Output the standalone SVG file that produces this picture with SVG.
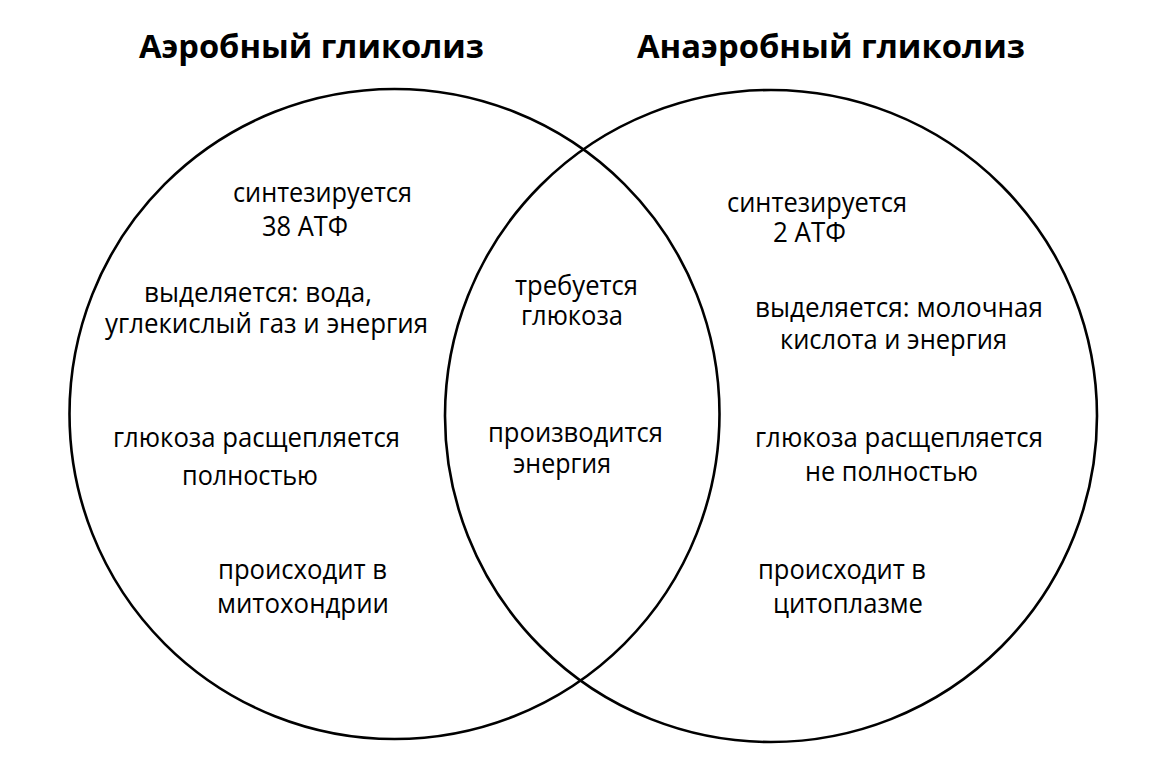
<svg xmlns="http://www.w3.org/2000/svg" width="1174" height="758" viewBox="0 0 1174 758">
<style>
.c{fill:none;stroke:#000;stroke-width:2.6}
.t{font-family:"Open Sans","Liberation Sans",sans-serif;font-size:27px;fill:#000}
.h{font-family:"Open Sans","Liberation Sans",sans-serif;font-size:33px;font-weight:bold;fill:#000}
</style>
<rect width="1174" height="758" fill="#fff"/>
<g id="aerobic">
<circle class="c" cx="394.5" cy="414" r="325"/>
<text class="h" x="139" y="58" textLength="345" lengthAdjust="spacingAndGlyphs">Аэробный гликолиз</text>
<text class="t" x="233" y="202" textLength="179" lengthAdjust="spacingAndGlyphs">синтезируется</text>
<text class="t" x="262" y="236" textLength="86" lengthAdjust="spacingAndGlyphs">38 АТФ</text>
<text class="t" x="144" y="302" textLength="228" lengthAdjust="spacingAndGlyphs">выделяется: вода,</text>
<text class="t" x="105" y="333" textLength="323" lengthAdjust="spacingAndGlyphs">углекислый газ и энергия</text>
<text class="t" x="113" y="447" textLength="287" lengthAdjust="spacingAndGlyphs">глюкоза расщепляется</text>
<text class="t" x="182" y="485" textLength="136" lengthAdjust="spacingAndGlyphs">полностью</text>
<text class="t" x="218" y="579" textLength="169" lengthAdjust="spacingAndGlyphs">происходит в</text>
<text class="t" x="217" y="613" textLength="172" lengthAdjust="spacingAndGlyphs">митохондрии</text>
</g>
<g id="anaerobic">
<circle class="c" cx="771" cy="416" r="326"/>
<text class="h" x="637" y="58" textLength="388" lengthAdjust="spacingAndGlyphs">Анаэробный гликолиз</text>
<text class="t" x="727" y="212" textLength="180" lengthAdjust="spacingAndGlyphs">синтезируется</text>
<text class="t" x="773" y="242" textLength="73" lengthAdjust="spacingAndGlyphs">2 АТФ</text>
<text class="t" x="755" y="317" textLength="288" lengthAdjust="spacingAndGlyphs">выделяется: молочная</text>
<text class="t" x="780" y="349" textLength="227" lengthAdjust="spacingAndGlyphs">кислота и энергия</text>
<text class="t" x="755" y="447" textLength="288" lengthAdjust="spacingAndGlyphs">глюкоза расщепляется</text>
<text class="t" x="805" y="481" textLength="173" lengthAdjust="spacingAndGlyphs">не полностью</text>
<text class="t" x="758" y="579" textLength="168" lengthAdjust="spacingAndGlyphs">происходит в</text>
<text class="t" x="773" y="613" textLength="150" lengthAdjust="spacingAndGlyphs">цитоплазме</text>
</g>
<g id="common">
<text class="t" x="515" y="295" textLength="123" lengthAdjust="spacingAndGlyphs">требуется</text>
<text class="t" x="521" y="325" textLength="102" lengthAdjust="spacingAndGlyphs">глюкоза</text>
<text class="t" x="488" y="442" textLength="175" lengthAdjust="spacingAndGlyphs">производится</text>
<text class="t" x="513" y="473" textLength="98" lengthAdjust="spacingAndGlyphs">энергия</text>
</g>
</svg>
